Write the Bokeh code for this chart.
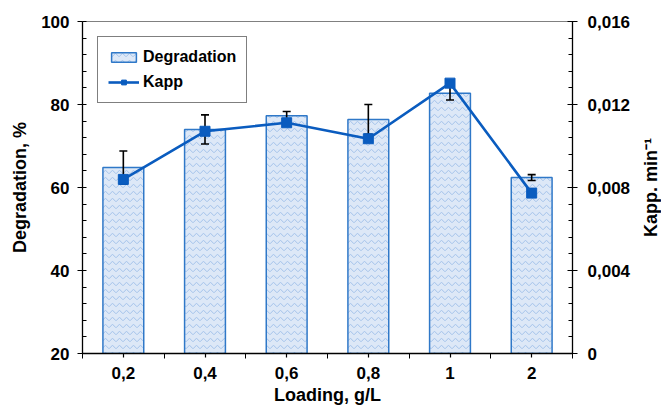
from bokeh.plotting import figure
from bokeh.models import (Range1d, LinearAxis, FixedTicker, CustomJSTickFormatter,
                          Legend, LegendItem, ColumnDataSource)
from bokeh.layouts import row
from bokeh.core.properties import value
from bokeh.embed import file_html
from bokeh.resources import INLINE
import numpy as np

# ---- data ----
categories = ["0,2", "0,4", "0,6", "0,8", "1", "2"]
degradation = [64.8, 74.0, 77.3, 76.4, 82.7, 62.4]
degradation_err = [4.0, 3.5, 1.0, 3.6, 1.6, 0.7]
kapp = [0.00839, 0.01071, 0.01112, 0.01035, 0.01303, 0.00773]
left_ticks = [20, 40, 60, 80, 100]
right_ticks = [0, 0.004, 0.008, 0.012, 0.016]
right_title = "Kapp. min\u207b\u00b9"

FONT = "Liberation Sans"
BAR_LINE = "#2f78c8"
KAPP_COL = "#0a5cbf"

xpos = np.arange(len(categories)) + 0.5
src = ColumnDataSource(dict(
    x=xpos, deg=degradation,
    lo=np.array(degradation) - np.array(degradation_err),
    hi=np.array(degradation) + np.array(degradation_err),
    kapp=kapp))

p = figure(width=634, height=408, output_backend="svg", toolbar_location=None,
           x_range=Range1d(0, len(categories)), y_range=Range1d(20, 100),
           min_border_left=82, min_border_top=21, min_border_right=62,
           min_border_bottom=55)
p.extra_y_ranges = {"kapp": Range1d(0, 0.016)}
p.xgrid.visible = False
p.ygrid.visible = False
p.outline_line_color = "#808080"
p.outline_line_width = 1
p.background_fill_color = "white"
p.border_fill_color = "white"

bars = p.vbar(x="x", top="deg", bottom=20, width=0.5, source=src,
              fill_color="#dde8f7", line_color=BAR_LINE, line_width=1.5,
              hatch_pattern="horizontal_wave", hatch_color="#a3c2ea",
              hatch_scale=7, hatch_weight=1)

# error bars (degradation)
p.segment(x0="x", y0="lo", x1="x", y1="hi", source=src, line_color="black", line_width=1.6)
p.scatter(x="x", y="lo", source=src, marker="dash", size=8, line_color="black", line_width=1.6)
p.scatter(x="x", y="hi", source=src, marker="dash", size=8, line_color="black", line_width=1.6)

# Kapp line
kl = p.line(x="x", y="kapp", source=src, y_range_name="kapp", line_color=KAPP_COL, line_width=2.6)
km = p.scatter(x="x", y="kapp", source=src, y_range_name="kapp", marker="square", size=10,
               fill_color=KAPP_COL, line_color=KAPP_COL)

# axes styling
def style_axis(ax):
    ax.axis_line_color = "black"
    ax.axis_line_width = 1.3
    ax.major_tick_line_color = "black"
    ax.minor_tick_line_color = "black"
    ax.major_tick_line_width = 1.2
    ax.minor_tick_line_width = 1.0
    ax.major_label_text_font = FONT
    ax.major_label_text_font_style = "bold"
    ax.major_label_text_font_size = "17px"
    ax.major_label_text_color = "black"
    ax.axis_label_text_font = FONT
    ax.axis_label_text_font_style = "bold"
    ax.axis_label_text_font_size = "18px"
    ax.axis_label_text_color = "black"

xa = p.xaxis[0]
style_axis(xa)
xa.ticker = FixedTicker(ticks=list(xpos), minor_ticks=list(range(len(categories) + 1)))
xa.major_label_overrides = {float(x): c for x, c in zip(xpos, categories)}
xa.major_tick_in = 0
xa.major_tick_out = 4
xa.minor_tick_in = 0
xa.minor_tick_out = 5
xa.major_label_standoff = 8
xa.axis_label = "Loading, g/L"
xa.axis_label_standoff = 3

ya = p.yaxis[0]
style_axis(ya)
ya.ticker = FixedTicker(ticks=left_ticks, minor_ticks=list(range(20, 101, 4)))
ya.major_tick_in = 0
ya.major_tick_out = 5
ya.minor_tick_in = 4
ya.minor_tick_out = 0
ya.major_label_standoff = 8
ya.axis_label = "Degradation, %"
ya.axis_label_standoff = 8

ra = LinearAxis(y_range_name="kapp")
style_axis(ra)
ra.ticker = FixedTicker(ticks=right_ticks, minor_ticks=[i * 0.0008 for i in range(21)])
ra.formatter = CustomJSTickFormatter(code="return tick === 0 ? '0' : tick.toFixed(3).replace('.', ',');")
ra.major_tick_in = 5
ra.major_tick_out = 5
ra.minor_tick_in = 4
ra.minor_tick_out = 0
ra.major_label_standoff = 10
p.add_layout(ra, "right")

legend = Legend(items=[LegendItem(label="Degradation", renderers=[bars]),
                       LegendItem(label="Kapp", renderers=[kl, km])],
                location="top_left", margin=15, padding=10, spacing=5,
                glyph_width=31, glyph_height=12, label_height=20, label_standoff=4,
                label_text_font=FONT, label_text_font_style="bold",
                label_text_font_size="16px", label_text_color="black",
                border_line_color="black", border_line_width=1.2,
                background_fill_color="white", background_fill_alpha=1.0)
p.add_layout(legend)

# narrow side panel carrying the right-axis title (reads bottom-to-top)
p2 = figure(width=27, height=408, output_backend="svg", toolbar_location=None,
            x_range=Range1d(0, 1), y_range=Range1d(20, 100),
            min_border_left=0, min_border_right=0, min_border_top=21,
            min_border_bottom=55)
p2.axis.visible = False
p2.grid.visible = False
p2.outline_line_color = None
p2.text(x=[0.6], y=[60], text=[right_title], angle=np.pi / 2,
        text_align="center", text_baseline="middle",
        text_font=value(FONT), text_font_style="bold", text_font_size="18px",
        text_color="black")

layout = row(p, p2, spacing=0)
open("out.html", "w").write(file_html(layout, INLINE))
